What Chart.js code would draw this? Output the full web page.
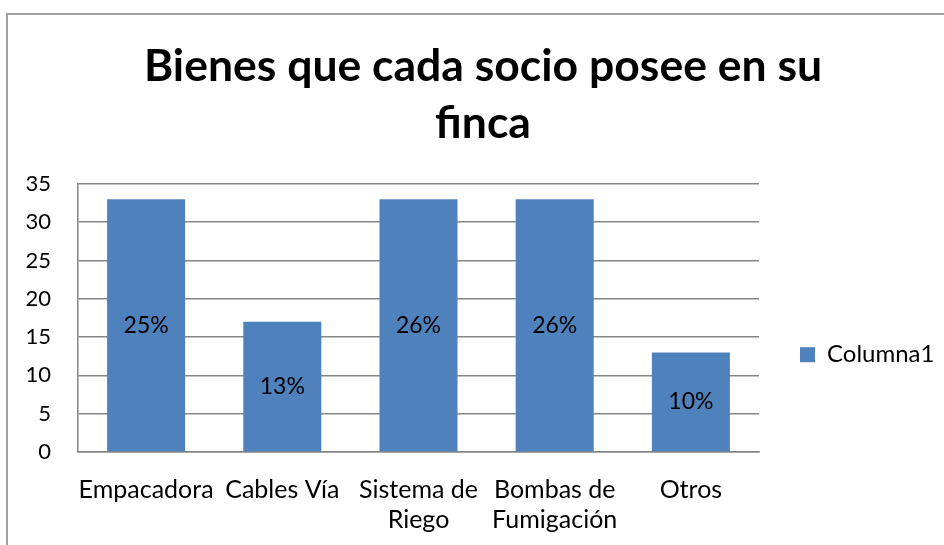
<!DOCTYPE html>
<html>
<head>
<meta charset="utf-8">
<script src="https://cdn.jsdelivr.net/npm/chart.js@4.4.1/dist/chart.umd.min.js"></script>
<style>
body{margin:0;background:#fff;}
#caja{position:relative;width:944px;height:545px;overflow:hidden;}
#marco{position:absolute;left:6px;top:13px;width:1000px;height:600px;border:2px solid #a0a0a0;}
canvas{position:absolute;left:0;top:0;}
</style>
</head>
<body>
<div id="caja">
  <div id="marco"></div>
  <canvas id="grafico" width="944" height="545"></canvas>
</div>
<script>
// datos
var categorias = [['Empacadora'], ['Cables Vía'], ['Sistema de', 'Riego'], ['Bombas de', 'Fumigación'], ['Otros']]
var valores = [33, 17, 33, 33, 13]
var porcentajes = ['25%', '13%', '26%', '26%', '10%']
var serie = 'Columna1'
var titulo = ['Bienes que cada socio posee en su', 'finca']
var ejeY = {min: 0, max: 35, paso: 5}

var fuente = 'Lato, "Open Sans", sans-serif'
var gris = '#868686'
var azul = '#4f81bd'

// escribe el porcentaje en el centro de cada barra
var etiquetas = {
  id: 'etiquetas',
  afterDatasetsDraw: function(chart){
    var ctx = chart.ctx
    var barras = chart.getDatasetMeta(0).data
    ctx.save()
    ctx.font = '23px ' + fuente
    ctx.fillStyle = '#000'
    ctx.textAlign = 'center'
    ctx.textBaseline = 'middle'
    for(var i=0;i<barras.length;i++){
      var b = barras[i]
      ctx.fillText(porcentajes[i], b.x, (b.y + b.base)/2)
    }
    ctx.restore()
  }
}

var char = new Chart(document.getElementById('grafico'), {
  type: 'bar',
  data: {
    labels: categorias,
    datasets: [{
      label: serie,
      data: valores,
      backgroundColor: azul,
      borderWidth: 0,
      categoryPercentage: 1,
      barPercentage: 0.573
    }]
  },
  options: {
    responsive: false,
    animation: false,
    layout: {padding: {left: 22, right: 0, top: 0, bottom: 0}},
    plugins: {
      title: {
        display: true,
        text: titulo,
        color: '#000',
        font: {family: fuente, size: 44.5, weight: 'bold', lineHeight: 1.28},
        padding: {top: 38, bottom: 32}
      },
      legend: {
        position: 'right',
        maxWidth: 185,
        // titulo vacio: solo baja la leyenda a la altura de excel
        title: {display: true, text: '', font: {size: 12}, padding: {top: 150, bottom: 0}},
        labels: {
          color: '#000',
          font: {family: fuente, size: 24},
          boxWidth: 15,
          boxHeight: 15,
          padding: 41
        }
      },
      tooltip: {enabled: false}
    },
    scales: {
      y: {
        min: ejeY.min,
        max: ejeY.max,
        ticks: {stepSize: ejeY.paso, color: '#000', font: {family: fuente, size: 22}, padding: 27},
        grid: {color: gris, lineWidth: 1.5, drawTicks: false},
        border: {color: gris, width: 1.5},
        afterFit: function(s){ s.width = 56 }
      },
      x: {
        ticks: {color: '#000', font: {family: fuente, size: 25, lineHeight: 1.2}, padding: 23, maxRotation: 0, autoSkip: false},
        grid: {display: false, drawTicks: false},
        border: {color: gris, width: 1.5},
        afterFit: function(s){ s.height = 93 }
      }
    }
  },
  plugins: [etiquetas]
})
</script>
</body>
</html>
